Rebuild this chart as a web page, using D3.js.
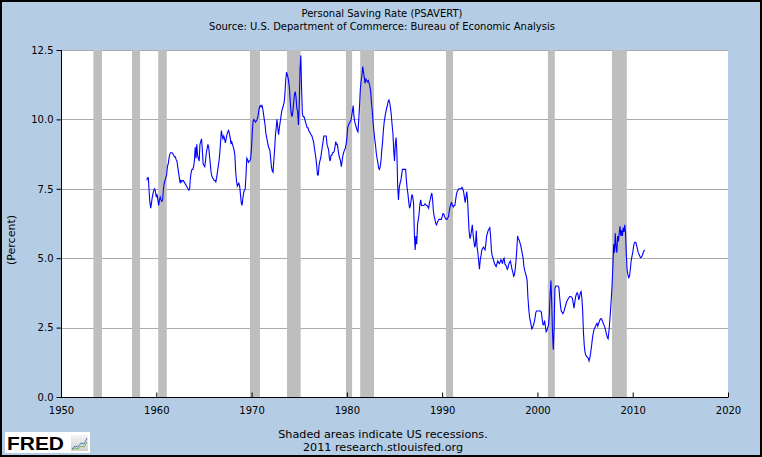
<!DOCTYPE html>
<html>
<head>
<meta charset="utf-8">
<script src="https://cdn.jsdelivr.net/npm/d3@7/dist/d3.min.js"></script>
<style>
  html, body { margin: 0; padding: 0; background: #b4cde4; }
  svg { display: block; }
  text { font-family: "DejaVu Sans", sans-serif; fill: #000; }
</style>
</head>
<body>
<svg id="chart" width="762" height="457"></svg>
<script>
// ---- DATA ----
const title = "Personal Saving Rate (PSAVERT)";
const subtitle = "Source: U.S. Department of Commerce: Bureau of Economic Analysis";
const yLabel = "(Percent)";
const footer1 = "Shaded areas indicate US recessions.";
const footer2 = "2011 research.stlouisfed.org";

const xTicks = [1950, 1960, 1970, 1980, 1990, 2000, 2010, 2020];
const yTicks = [0, 2.5, 5, 7.5, 10, 12.5];

// recession periods (decimal years)
const recStart = [1953.4, 1957.45, 1960.2, 1969.83, 1973.72, 1979.9, 1981.4, 1990.4, 2001.1, 2007.82];
const recEnd   = [1954.3, 1958.3, 1961.1, 1970.88, 1975.15, 1980.55, 1982.85, 1991.15, 2001.82, 2009.38];

// monthly personal saving rate, starting January 1959
const startYear = 1959;
const savingRate = [
  7.8, 7.9, 7.9, 7.4, 7.0, 6.8, 7.0, 7.2, 7.35, 7.45, 7.5, 7.4,          // 1959
  7.2, 7.3, 7.1, 6.9, 7.1, 7.2, 7.1, 7.05, 7.1, 7.5, 7.7, 7.8,           // 1960
  7.9, 8.0, 8.3, 8.4, 8.6, 8.75, 8.8, 8.8, 8.8, 8.75, 8.7, 8.65,         // 1961
  8.65, 8.55, 8.5, 8.3, 8.1, 7.9, 7.7, 7.8, 7.75, 7.8, 7.8, 7.75,        // 1962
  7.7, 7.65, 7.6, 7.55, 7.5, 7.45, 7.5, 7.9, 8.1, 8.2, 8.2, 8.3,         // 1963
  8.5, 9.0, 8.6, 9.1, 8.7, 8.6, 8.5, 9.1, 9.2, 9.3, 8.9, 8.4,            // 1964
  8.35, 8.3, 8.5, 8.8, 8.95, 9.1, 9.0, 8.7, 8.4, 8.1, 7.95, 7.9,         // 1965
  7.85, 7.8, 7.8, 7.75, 7.9, 8.1, 8.3, 8.5, 8.8, 9.2, 9.6, 9.4,          // 1966
  9.3, 9.4, 9.3, 9.15, 9.3, 9.45, 9.55, 9.6, 9.5, 9.35, 9.15, 9.2,       // 1967
  9.1, 9.0, 8.9, 8.7, 8.1, 7.8, 7.6, 7.65, 7.7, 7.6, 7.3, 7.0,           // 1968
  6.9, 7.15, 7.35, 7.45, 7.5, 8.0, 8.6, 8.55, 8.45, 8.5, 8.5, 8.65,      // 1969
  9.0, 9.6, 9.95, 10.0, 9.95, 9.9, 9.95, 10.0, 10.1, 10.3, 10.45, 10.5,  // 1970
  10.45, 10.5, 10.4, 10.2, 10.0, 9.8, 9.5, 9.35, 9.2, 9.05, 8.95, 8.9,   // 1971
  8.6, 8.3, 8.15, 8.1, 8.5, 8.9, 9.4, 9.7, 10.0, 9.7, 9.45, 9.7,         // 1972
  9.9, 10.1, 10.3, 10.4, 10.5, 10.6, 10.9, 11.4, 11.7, 11.6, 11.5, 11.3, // 1973
  11.0, 10.5, 10.2, 10.1, 10.3, 10.6, 10.9, 11.0, 10.8, 10.4, 10.3, 9.8, // 1974
  10.5, 11.8, 12.3, 11.1, 10.2, 10.1, 10.1, 10.0, 9.9, 9.8, 9.7, 9.7,    // 1975
  9.6, 9.55, 9.5, 9.45, 9.4, 9.3, 9.2, 9.0, 8.8, 8.6, 8.35, 8.0,         // 1976
  8.0, 8.35, 8.5, 8.6, 8.8, 9.0, 9.2, 9.4, 9.4, 9.4, 9.4, 9.1,           // 1977
  9.0, 8.9, 8.6, 8.5, 8.7, 8.7, 8.8, 8.8, 8.85, 9.0, 9.2, 9.1,           // 1978
  9.1, 8.9, 8.7, 8.6, 8.5, 8.3, 8.5, 8.7, 8.8, 8.9, 8.95, 9.1,           // 1979
  9.3, 9.7, 9.8, 9.86, 9.9, 9.95, 10.1, 10.3, 10.5, 10.1, 9.9, 9.8,      // 1980
  9.7, 9.6, 9.55, 10.0, 10.5, 11.1, 11.4, 11.6, 11.9, 11.7, 11.5, 11.3,  // 1981
  11.45, 11.4, 11.35, 11.4, 11.3, 11.2, 11.0, 10.6, 10.3, 9.9, 9.6, 9.3, // 1982
  9.1, 8.8, 8.6, 8.45, 8.25, 8.2, 8.3, 8.5, 8.9, 9.2, 9.6, 9.9,          // 1983
  10.1, 10.25, 10.4, 10.5, 10.65, 10.7, 10.6, 10.4, 10.15, 9.8, 9.5, 8.9,// 1984
  8.5, 9.1, 9.35, 8.8, 7.6, 7.1, 7.55, 7.7, 7.8, 8.0, 8.2, 8.2,          // 1985
  8.2, 8.2, 8.2, 7.8, 7.5, 7.3, 7.0, 6.8, 6.9, 7.1, 7.3, 7.2,            // 1986
  7.0, 5.9, 5.3, 5.8, 5.5, 6.2, 6.4, 6.6, 6.95, 7.1, 6.9, 6.9,           // 1987
  6.9, 6.9, 6.95, 6.95, 6.9, 6.9, 6.85, 6.8, 7.0, 7.1, 7.25, 7.35,       // 1988
  7.1, 6.7, 6.5, 6.4, 6.25, 6.2, 6.3, 6.35, 6.4, 6.4, 6.4, 6.4,          // 1989
  6.5, 6.6, 6.6, 6.5, 6.45, 6.4, 6.4, 6.45, 6.5, 6.7, 6.85, 6.95,        // 1990
  7.0, 6.9, 6.85, 6.9, 6.9, 7.1, 7.3, 7.4, 7.45, 7.5, 7.5, 7.5,          // 1991
  7.5, 7.55, 7.5, 7.4, 7.2, 7.0, 7.2, 7.4, 7.1, 6.5, 5.95, 5.7,          // 1992
  5.8, 6.0, 6.2, 5.85, 5.6, 5.4, 5.5, 6.0, 5.4, 5.2, 4.9, 4.6,           // 1993
  4.95, 5.1, 5.3, 5.35, 5.4, 5.35, 5.3, 5.5, 5.8, 5.9, 6.0, 6.05,        // 1994
  6.1, 5.8, 5.3, 5.1, 5.0, 4.9, 4.8, 4.75, 4.7, 4.8, 4.9, 4.85,          // 1995
  4.8, 4.85, 4.95, 4.9, 4.8, 4.95, 5.0, 4.8, 4.75, 4.7, 4.6, 4.65,       // 1996
  4.8, 4.85, 4.9, 4.75, 4.6, 4.5, 4.35, 4.4, 4.6, 4.9, 5.3, 5.8,         // 1997
  5.7, 5.65, 5.55, 5.45, 5.3, 5.15, 5.0, 4.7, 4.55, 4.45, 4.35, 4.2,     // 1998
  3.6, 3.2, 2.9, 2.75, 2.6, 2.45, 2.5, 2.6, 2.7, 2.85, 3.05, 3.1,        // 1999
  3.1, 3.1, 3.1, 3.1, 3.1, 3.05, 2.8, 2.6, 2.6, 2.75, 2.55, 2.35,        // 2000
  2.4, 2.5, 2.6, 3.0, 3.7, 4.2, 3.4, 2.3, 1.7, 2.5, 3.9, 4.0,            // 2001
  4.0, 4.0, 4.0, 3.95, 3.6, 3.3, 3.1, 3.05, 3.0, 3.05, 3.15, 3.25,       // 2002
  3.35, 3.45, 3.5, 3.55, 3.6, 3.62, 3.62, 3.6, 3.55, 3.4, 3.2, 3.4,      // 2003
  3.6, 3.7, 3.75, 3.7, 3.5, 3.6, 3.75, 3.8, 3.55, 3.1, 2.3, 1.85,        // 2004
  1.6, 1.5, 1.46, 1.43, 1.4, 1.3, 1.4, 1.58, 1.8, 2.05, 2.25, 2.4,       // 2005
  2.48, 2.54, 2.6, 2.65, 2.55, 2.65, 2.72, 2.8, 2.83, 2.8, 2.72, 2.65,   // 2006
  2.58, 2.5, 2.38, 2.26, 2.15, 2.1, 2.35, 2.7, 3.1, 3.55, 4.0, 4.7,      // 2007
  5.5, 5.2, 5.9, 5.4, 5.2, 5.8, 5.6, 5.9, 6.15, 5.8, 6.0, 5.8,           // 2008
  6.1, 5.95, 6.2, 5.9, 5.1, 4.55, 4.4, 4.3, 4.35, 4.6, 4.9, 5.06,        // 2009
  5.2, 5.4, 5.55, 5.58, 5.56, 5.45, 5.32, 5.2, 5.13, 5.07, 5.02, 5.04,   // 2010
  5.1, 5.18, 5.25, 5.3                                                    // 2011
];

// ---- LAYOUT ----
const W = 762, H = 457;
const plot = { left: 61, right: 728, top: 50, bottom: 397 };

const svg = d3.select("#chart");

const x = d3.scaleLinear().domain([1950, 2020]).range([plot.left, plot.right]);
const y = d3.scaleLinear().domain([0, 12.5]).range([plot.bottom, plot.top]);

// background
svg.append("rect").attr("x", 0).attr("y", 0).attr("width", W).attr("height", H)
  .attr("fill", "#b4cde4");

// plot area
svg.append("rect")
  .attr("x", plot.left).attr("y", plot.top)
  .attr("width", plot.right - plot.left).attr("height", plot.bottom - plot.top)
  .attr("fill", "#ffffff");

// gridlines
svg.append("g").selectAll("line").data(yTicks.filter(d => d > 0)).join("line")
  .attr("x1", plot.left).attr("x2", plot.right)
  .attr("y1", d => Math.round(y(d)) + 0.5).attr("y2", d => Math.round(y(d)) + 0.5)
  .attr("stroke", "#aaaaaa").attr("stroke-width", 1);

// recession bars
svg.append("g").selectAll("rect").data(recStart.map((s, i) => [s, recEnd[i]])).join("rect")
  .attr("x", d => x(d[0])).attr("width", d => x(d[1]) - x(d[0]))
  .attr("y", plot.top).attr("height", plot.bottom - plot.top)
  .attr("fill", "#bebebe");

// series line
const series = savingRate.map((v, i) => ({ t: startYear + i / 12, v }));
const line = d3.line().x(d => x(d.t)).y(d => y(d.v));
svg.append("path").datum(series)
  .attr("d", line)
  .attr("fill", "none")
  .attr("stroke", "#0000ff")
  .attr("stroke-width", 1.1)
  .attr("stroke-linejoin", "miter");

// y axis
const yAxis = d3.axisLeft(y).tickValues(yTicks).tickSize(5).tickPadding(3)
  .tickFormat(d3.format(".1f"));
const gy = svg.append("g").attr("transform", `translate(${plot.left + 0.5},0)`).call(yAxis);
gy.select(".domain").attr("stroke", "#000").attr("d", `M0,${plot.top}V${plot.bottom}`);
gy.selectAll(".tick line").attr("stroke", "#000");
gy.selectAll(".tick text").style("font-family", "DejaVu Sans").style("font-size", "10px").attr("fill", "#000");

// x axis (ticks pointing up into the plot)
const xAxis = d3.axisBottom(x).tickValues(xTicks).tickSize(-5).tickPadding(9)
  .tickFormat(d3.format("d"));
const gx = svg.append("g").attr("transform", `translate(0,${plot.bottom + 0.5})`).call(xAxis);
gx.select(".domain").attr("stroke", "#000").attr("d", `M${plot.left},0H${plot.right}`);
gx.selectAll(".tick line").attr("stroke", "#000");
gx.selectAll(".tick text").style("font-family", "DejaVu Sans").style("font-size", "10px").attr("fill", "#000");

// titles
svg.append("text").attr("x", 382).attr("y", 17).attr("text-anchor", "middle")
  .style("font-size", "10px").text(title);
svg.append("text").attr("x", 382).attr("y", 30).attr("text-anchor", "middle")
  .style("font-size", "10px").text(subtitle);

// y label
svg.append("text")
  .attr("transform", "translate(15,240) rotate(-90)")
  .attr("text-anchor", "middle")
  .style("font-size", "11px").text(yLabel);

// footer
svg.append("text").attr("x", 383).attr("y", 438).attr("text-anchor", "middle")
  .style("font-size", "11.2px").text(footer1);
svg.append("text").attr("x", 383).attr("y", 451).attr("text-anchor", "middle")
  .style("font-size", "11.2px").text(footer2);

// FRED logo
const logo = svg.append("g");
logo.append("rect").attr("x", 5).attr("y", 432).attr("width", 85).attr("height", 21).attr("fill", "#ffffff");
logo.append("text").attr("x", 7).attr("y", 450)
  .attr("textLength", 57).attr("lengthAdjust", "spacingAndGlyphs")
  .style("font-family", "Liberation Sans").style("font-weight", "bold").style("font-size", "18.5px")
  .attr("fill", "#111").text("FRED");
const grad = svg.append("defs").append("linearGradient").attr("id", "ig")
  .attr("x1", 0).attr("y1", 0).attr("x2", 0).attr("y2", 1);
grad.append("stop").attr("offset", "0%").attr("stop-color", "#f4f4f4");
grad.append("stop").attr("offset", "100%").attr("stop-color", "#cfcfcf");
logo.append("rect").attr("x", 71).attr("y", 435).attr("width", 17).attr("height", 16).attr("fill", "url(#ig)");
logo.append("polyline").attr("points", "72,449 75,446 78,447 81,443 84,444 87,438")
  .attr("fill", "none").attr("stroke", "#4f7fc0").attr("stroke-width", 1);
logo.append("polyline").attr("points", "72,450 75,448 78,449 81,446 84,447 87,442")
  .attr("fill", "none").attr("stroke", "#7cb25a").attr("stroke-width", 1);

// outer border
svg.append("rect").attr("x", 1).attr("y", 1).attr("width", W - 2).attr("height", H - 2)
  .attr("fill", "none").attr("stroke", "#000").attr("stroke-width", 2);
</script>
</body>
</html>
